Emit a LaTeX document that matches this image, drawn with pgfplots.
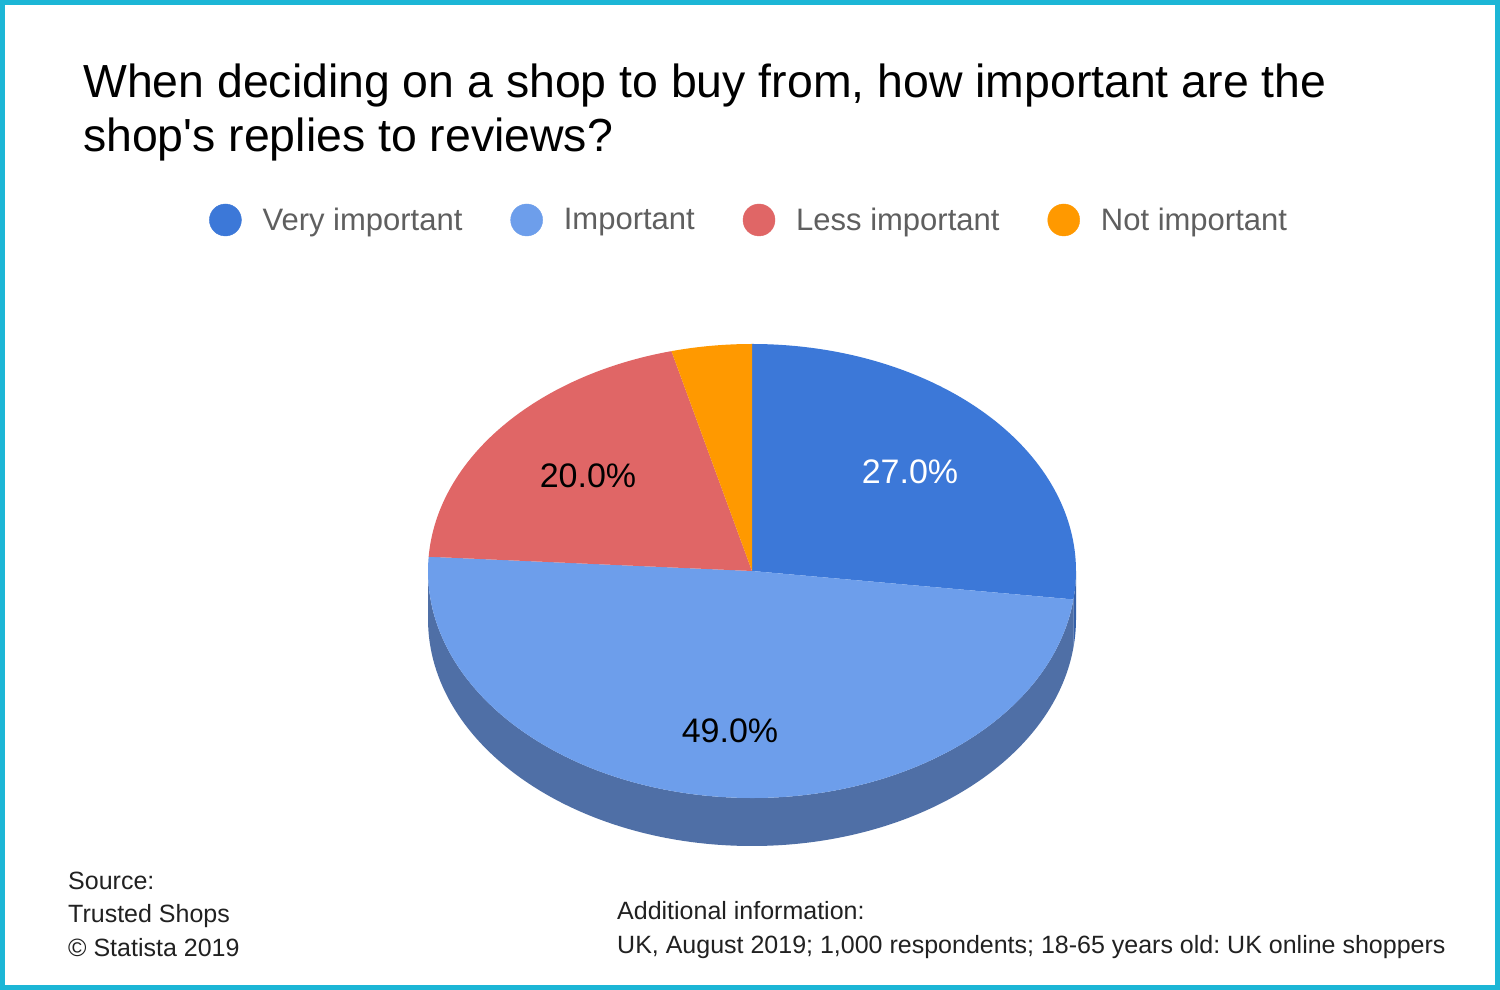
\documentclass[border=0pt]{standalone}
\usepackage{pgfplots}
\pgfplotsset{compat=1.18}
\usepackage{pgfplotstable}
\usepackage{fontspec}
\setmainfont{Liberation Sans}[Ligatures=TeXOff]
\frenchspacing

\definecolor{veryimp}{HTML}{3C78D8}
\definecolor{imp}{HTML}{6D9EEB}
\definecolor{lessimp}{HTML}{E06666}
\definecolor{notimp}{HTML}{FF9900}
\definecolor{veryimpside}{HTML}{3560A8}
\definecolor{impside}{HTML}{4F6FA6}
\definecolor{lessimpside}{HTML}{A85050}
\definecolor{notimpside}{HTML}{BF7300}
\definecolor{frame}{HTML}{1CB6D6}
\definecolor{legtext}{HTML}{5F5F5F}

% share of respondents, in percent
\pgfplotstableread{
label value top side
Very 27 veryimp veryimpside
Important 49 imp impside
Less 20 lessimp lessimpside
Not 4 notimp notimpside
}\piedata

% pie geometry, in pt (1 axis unit = 1 pt)
\def\cx{752}
\def\cy{419}
\def\rx{324}
\def\ry{227}
\def\depth{48}

\begin{document}
\begin{tikzpicture}
\begin{axis}[
    hide axis,
    scale only axis,
    width=1500pt, height=990pt,
    xmin=0, xmax=1500, ymin=0, ymax=990,
    clip=false,
    legend columns=4,
    legend style={
        draw=none, fill=none,
        at={(axis cs:206,770)}, anchor=west,
        font=\fontsize{31}{37}\selectfont,
        text=legtext,
        nodes={inner sep=0pt},
        /tikz/every odd column/.append style={column sep=21pt},
        /tikz/every even column/.append style={column sep=48pt},
    },
]
\fill[white] (axis cs:0,0) rectangle (axis cs:1500,990);
\draw[frame, line width=5pt] (axis cs:2.5,2.5) rectangle (axis cs:1497.5,987.5);

\addlegendimage{legend image code/.code={\fill[veryimp] (0pt,0pt) circle[radius=16pt];}}
\addlegendentry{Very important}
\addlegendimage{legend image code/.code={\fill[imp] (0pt,0pt) circle[radius=16pt];}}
\addlegendentry{Important}
\addlegendimage{legend image code/.code={\fill[lessimp] (0pt,0pt) circle[radius=16pt];}}
\addlegendentry{Less important}
\addlegendimage{legend image code/.code={\fill[notimp] (0pt,0pt) circle[radius=16pt];}}
\addlegendentry{Not important}

\pgfplotsextra{
    \pgfplotstablegetrowsof{\piedata}
    \pgfmathtruncatemacro\lastrow{\pgfplotsretval-1}
    % side walls first (only the front half is visible)
    \gdef\cum{0}
    \foreach \i in {0,...,\lastrow}{
        \pgfplotstablegetelem{\i}{value}\of\piedata \let\v\pgfplotsretval
        \pgfplotstablegetelem{\i}{side}\of\piedata \let\c\pgfplotsretval
        \pgfmathsetmacro\as{90-3.6*\cum}
        \pgfmathsetmacro\ae{90-3.6*(\cum+\v)}
        \pgfmathsetmacro\lo{max(\ae,-180)}
        \pgfmathsetmacro\hi{min(\as,0)}
        \pgfmathparse{\lo<\hi ? 1 : 0}
        \ifnum\pgfmathresult=1
            \fill[\c] (axis cs:{\cx+\rx*cos(\hi)},{\cy+\ry*sin(\hi)})
                arc[start angle=\hi, end angle=\lo, x radius=\rx pt, y radius=\ry pt]
                -- ++(0pt,-\depth pt)
                arc[start angle=\lo, end angle=\hi, x radius=\rx pt, y radius=\ry pt]
                -- cycle;
        \fi
        \pgfmathsetmacro\newcum{\cum+\v}
        \xdef\cum{\newcum}
    }
    % top faces, clockwise from twelve o'clock
    \gdef\cum{0}
    \foreach \i in {0,...,\lastrow}{
        \pgfplotstablegetelem{\i}{value}\of\piedata \let\v\pgfplotsretval
        \pgfplotstablegetelem{\i}{top}\of\piedata \let\c\pgfplotsretval
        \pgfmathsetmacro\as{90-3.6*\cum}
        \pgfmathsetmacro\ae{90-3.6*(\cum+\v)}
        \fill[\c] (axis cs:\cx,\cy)
            -- (axis cs:{\cx+\rx*cos(\as)},{\cy+\ry*sin(\as)})
            arc[start angle=\as, end angle=\ae, x radius=\rx pt, y radius=\ry pt]
            -- cycle;
        \pgfmathsetmacro\newcum{\cum+\v}
        \xdef\cum{\newcum}
    }
}

% slice labels
\node[white, font=\fontsize{34}{40}\selectfont] at (axis cs:910,518) {27.0\%};
\node[black, font=\fontsize{34}{40}\selectfont] at (axis cs:730,259) {49.0\%};
\node[black, font=\fontsize{34}{40}\selectfont] at (axis cs:588,514) {20.0\%};

% title
\node[anchor=base west, inner sep=0pt, font=\fontsize{46.4}{54}\selectfont] at (axis cs:83,892)
    {When deciding on a shop to buy from, how important are the};
\node[anchor=base west, inner sep=0pt, font=\fontsize{46.4}{54}\selectfont] at (axis cs:83,838)
    {shop's replies to reviews?};

% source and notes
\node[anchor=base west, inner sep=0pt, font=\fontsize{25}{30}\selectfont, text=black!87] at (axis cs:68,100) {Source:};
\node[anchor=base west, inner sep=0pt, font=\fontsize{25}{30}\selectfont, text=black!87] at (axis cs:68,67) {Trusted Shops};
\node[anchor=base west, inner sep=0pt, font=\fontsize{25}{30}\selectfont, text=black!87] at (axis cs:68,33) {© Statista 2019};
\node[anchor=base west, inner sep=0pt, font=\fontsize{25}{30}\selectfont, text=black!87] at (axis cs:617,70) {Additional information:};
\node[anchor=base west, inner sep=0pt, font=\fontsize{25}{30}\selectfont, text=black!87] at (axis cs:617,36)
    {UK, August 2019; 1,000 respondents; 18-65 years old: UK online shoppers};
\end{axis}
\end{tikzpicture}
\end{document}
